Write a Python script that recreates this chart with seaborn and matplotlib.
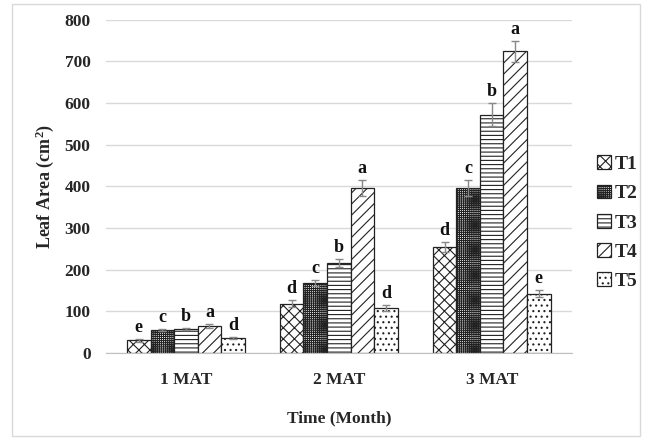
import matplotlib
matplotlib.use("Agg")
import matplotlib.pyplot as plt
import seaborn as sns
import pandas as pd
import numpy as np
from matplotlib.patches import Rectangle

times = ["1 MAT", "2 MAT", "3 MAT"]
treatments = ["T1", "T2", "T3", "T4", "T5"]
T1 = [30, 118, 255]
T2 = [55, 168, 396]
T3 = [57, 216, 572]
T4 = [65, 396, 724]
T5 = [36, 108, 142]
T1_err = [3, 8, 12]
T2_err = [3, 7, 20]
T3_err = [3, 10, 28]
T4_err = [5, 20, 25]
T5_err = [3, 8, 8]
T1_lab = ["e", "d", "d"]
T2_lab = ["c", "c", "c"]
T3_lab = ["b", "b", "b"]
T4_lab = ["a", "a", "a"]
T5_lab = ["d", "d", "e"]

vals = [T1, T2, T3, T4, T5]
errs = [T1_err, T2_err, T3_err, T4_err, T5_err]
labs = [T1_lab, T2_lab, T3_lab, T4_lab, T5_lab]

rows = []
for t, v, e, l in zip(treatments, vals, errs, labs):
    for i, tm in enumerate(times):
        rows.append(dict(Time=tm, Treatment=t, Value=v[i], Err=e[i], Lab=l[i]))
df = pd.DataFrame(rows)

sns.set_style("white")
plt.rcParams['font.family'] = ['Liberation Serif', 'DejaVu Serif']
plt.rcParams['hatch.linewidth'] = 0.8
plt.rcParams['mathtext.fontset'] = 'custom'
plt.rcParams['mathtext.rm'] = 'Liberation Serif:bold'
plt.rcParams['mathtext.bf'] = 'Liberation Serif:bold'
plt.rcParams['mathtext.it'] = 'Liberation Serif:bold'

fig = plt.figure(figsize=(6.49, 4.41), dpi=100)
ax = fig.add_axes([0.163, 0.2, 0.718, 0.755])

sns.barplot(data=df, x="Time", y="Value", hue="Treatment", order=times,
            hue_order=treatments, errorbar=None, width=0.77, ax=ax,
            palette=["white"] * 5, edgecolor="#222222", linewidth=0.9, legend=False)

hatches = ["xxx", "++++++++", "----", "///", "..."]
handles = []
for ti, t in enumerate(treatments):
    cont = ax.containers[ti]
    sub = df[df.Treatment == t].set_index("Time").loc[times]
    xs, ys = [], []
    for bar, (tm, r) in zip(cont.patches, sub.iterrows()):
        bar.set_hatch(hatches[ti])
        x = bar.get_x() + bar.get_width() / 2
        xs.append(x); ys.append(bar.get_height())
        ax.text(x, bar.get_height() + r.Err + 7, r.Lab, ha="center", va="bottom",
                fontsize=13, fontweight="bold", color="#111111")
    ax.errorbar(xs, ys, yerr=sub.Err.values, fmt="none", ecolor="#888888",
                elinewidth=1, capsize=3, capthick=1, zorder=5)
    handles.append(Rectangle((0, 0), 1, 1, facecolor="white", edgecolor="#222222",
                             hatch=hatches[ti], linewidth=0.9))

ax.set_ylim(0, 800)
ax.set_yticks(range(0, 801, 100))
ax.yaxis.grid(True, color="#d9d9d9", linewidth=1)
ax.set_axisbelow(True)
for s in ["top", "right", "left"]:
    ax.spines[s].set_visible(False)
ax.spines["bottom"].set_color("#bfbfbf")
ax.tick_params(axis="y", length=0, labelsize=12.5, pad=11)
ax.tick_params(axis="x", length=0, labelsize=12.5, pad=14)
for lbl in ax.get_xticklabels() + ax.get_yticklabels():
    lbl.set_fontweight("bold")
ax.set_xlabel("Time (Month)", fontsize=12.5, fontweight="bold", labelpad=16)
ax.set_ylabel("Leaf Area (cm$^{2}$)", fontsize=13, fontweight="bold", labelpad=6)

leg = fig.legend(handles, treatments, loc="center left", bbox_to_anchor=(0.893, 0.495),
                 frameon=False, prop=dict(weight="bold", size=14), handlelength=0.7,
                 handleheight=0.7, handletextpad=0.2, labelspacing=0.6)

fig.patches.append(Rectangle((0.018, 0.012), 0.968, 0.98, transform=fig.transFigure,
                             fill=False, edgecolor="#d9d9d9", linewidth=1))

fig.savefig("out.png", dpi=100)
